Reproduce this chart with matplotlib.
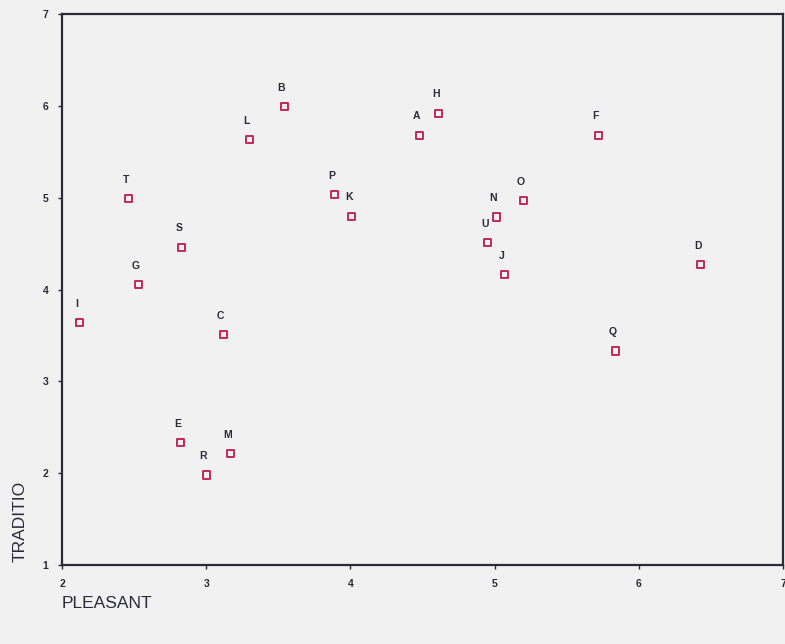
import matplotlib
matplotlib.use("Agg")
import matplotlib.pyplot as plt

labels = ["I", "T", "G", "S", "C", "E", "R", "M", "L", "B", "P",
          "K", "A", "H", "N", "U", "J", "O", "F", "Q", "D"]
pleasant = [2.12, 2.46, 2.53, 2.83, 3.12, 2.82, 3.00, 3.17, 3.30, 3.54, 3.89,
            4.01, 4.48, 4.61, 5.01, 4.95, 5.07, 5.20, 5.72, 5.84, 6.43]
traditio = [3.64, 4.99, 4.05, 4.46, 3.51, 2.33, 1.98, 2.21, 5.63, 5.99, 5.03,
            4.80, 5.68, 5.92, 4.79, 4.51, 4.16, 4.97, 5.68, 3.33, 4.27]
x_ticks = [2, 3, 4, 5, 6, 7]
y_ticks = [1, 2, 3, 4, 5, 6, 7]

bg = "#f1f1f1"
ink = "#2a2a3a"
marker_color = "#c0285a"

plt.rcParams["font.family"] = ["Liberation Sans", "DejaVu Sans"]

fig = plt.figure(figsize=(7.85, 6.44), dpi=100, facecolor=bg)
ax = fig.add_axes([0.079, 0.1227, 0.9185, 0.8555], facecolor=bg)

ax.scatter(pleasant, traditio, marker="s", s=26, facecolors="none",
           edgecolors=marker_color, linewidths=1.4, zorder=3)
for lab, x, y in zip(labels, pleasant, traditio):
    ax.annotate(lab, (x, y), xytext=(-2, 10), textcoords="offset points",
                ha="center", va="bottom", fontsize=7.5, fontweight="bold",
                color=ink)

ax.set_xlim(2, 7)
ax.set_ylim(1, 7)
ax.set_xticks(x_ticks)
ax.set_yticks(y_ticks)
ax.tick_params(axis="both", direction="out", length=3, width=1,
               colors=ink, labelsize=7.5, pad=7)
for lbl in ax.get_xticklabels() + ax.get_yticklabels():
    lbl.set_fontweight("bold")
for side in ["left", "right", "top", "bottom"]:
    ax.spines[side].set_color(ink)
    ax.spines[side].set_linewidth(1.6)

fig.text(0.079, 0.063, "PLEASANT", fontsize=12.5, color=ink,
         ha="left", va="center")
fig.text(0.026, 0.127, "TRADITIO", fontsize=12.5, color=ink,
         ha="center", va="bottom", rotation=90)

fig.savefig("out.png", dpi=100, facecolor=bg)
